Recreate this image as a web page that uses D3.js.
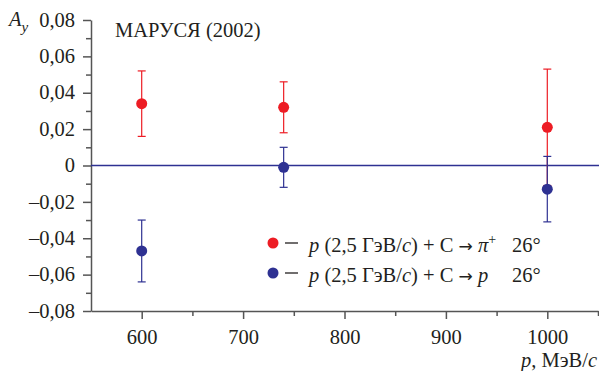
<!DOCTYPE html>
<html>
<head>
<meta charset="utf-8">
<script src="https://cdn.jsdelivr.net/npm/d3@7"></script>
<style>
  body { margin: 0; background: #fff; }
</style>
</head>
<body>
<div id="chart"></div>
<script>
// momentum of the secondary particle, MeV/c
var momenta = [600, 740, 1000];
// p + C -> pi+ 26 deg
var piPlusAy = [0.034, 0.032, 0.021];
var piPlusErr = [0.018, 0.014, 0.032];
// p + C -> p 26 deg
var protonAy = [-0.047, -0.001, -0.013];
var protonErr = [0.017, 0.011, 0.018];

var xTicks = [600, 700, 800, 900, 1000];
var xMinor = [650, 750, 850, 950, 1050];
var yTicks = [-0.08, -0.06, -0.04, -0.02, 0, 0.02, 0.04, 0.06, 0.08];
var yMinor = [-0.07, -0.05, -0.03, -0.01, 0.01, 0.03, 0.05, 0.07];

var red = "#ed1c24", blue = "#2e3192", axisCol = "#555", ink = "#231f20";
var font = "Liberation Serif";
var fs = "20.5px";

var width = 599, height = 371;
var svg = d3.select("#chart").append("svg")
    .attr("width", width)
    .attr("height", height)
    .attr("font-family", font);

var x = d3.scaleLinear().domain([550, 1050]).range([91, 598]);
var y = d3.scaleLinear().domain([-0.08, 0.08]).range([311, 20]);

function fmtY(d){
  if (d === 0) return "0";
  return (d < 0 ? "\u2013" : "") + Math.abs(d).toFixed(2).replace(".", ",");
}

// y axis
var gy = svg.append("g")
    .attr("transform", "translate(" + x(550) + ",0)")
    .call(d3.axisLeft(y).tickValues(yTicks).tickSize(8).tickSizeOuter(0).tickFormat(fmtY));
gy.selectAll("text").attr("x", -16).attr("dy", "0.3em");
svg.append("g")
    .attr("transform", "translate(" + x(550) + ",0)")
    .call(d3.axisLeft(y).tickValues(yMinor).tickSize(5).tickSizeOuter(0).tickFormat(""))
    .select(".domain").remove();

// x axis
var gx = svg.append("g")
    .attr("transform", "translate(0," + y(-0.08) + ")")
    .call(d3.axisBottom(x).tickValues(xTicks).tickSize(8).tickSizeOuter(0).tickFormat(d3.format("d")));
gx.selectAll("text").attr("y", 33).attr("dy", 0);
svg.append("g")
    .attr("transform", "translate(0," + y(-0.08) + ")")
    .call(d3.axisBottom(x).tickValues(xMinor).tickSize(5).tickSizeOuter(0).tickFormat(""))
    .select(".domain").remove();

svg.selectAll("g").attr("font-family", font).attr("font-size", null);
svg.selectAll(".domain, .tick line").attr("stroke", axisCol).attr("stroke-width", 1.5);
svg.selectAll(".tick text").attr("fill", ink).style("font-size", fs);

// zero line
svg.append("line")
    .attr("x1", x(550)).attr("x2", width)
    .attr("y1", y(0)).attr("y2", y(0))
    .attr("stroke", blue).attr("stroke-width", 1.5);

var series = [
  {vals: piPlusAy, errs: piPlusErr, color: red},
  {vals: protonAy, errs: protonErr, color: blue}
];

series.forEach(function(s){
  var pts = momenta.map(function(m, i){ return {m: m, v: s.vals[i], e: s.errs[i]}; });
  var g = svg.append("g");
  var bars = g.selectAll(".err").data(pts).enter().append("g")
      .attr("stroke", s.color).attr("stroke-width", 1.2);
  bars.append("line")
      .attr("x1", function(d){ return x(d.m); }).attr("x2", function(d){ return x(d.m); })
      .attr("y1", function(d){ return y(d.v + d.e); }).attr("y2", function(d){ return y(d.v - d.e); });
  bars.append("line")
      .attr("x1", function(d){ return x(d.m) - 4; }).attr("x2", function(d){ return x(d.m) + 4; })
      .attr("y1", function(d){ return y(d.v + d.e); }).attr("y2", function(d){ return y(d.v + d.e); });
  bars.append("line")
      .attr("x1", function(d){ return x(d.m) - 4; }).attr("x2", function(d){ return x(d.m) + 4; })
      .attr("y1", function(d){ return y(d.v - d.e); }).attr("y2", function(d){ return y(d.v - d.e); });
  g.selectAll("circle").data(pts).enter().append("circle")
      .attr("cx", function(d){ return x(d.m); })
      .attr("cy", function(d){ return y(d.v); })
      .attr("r", 5.5)
      .attr("fill", s.color);
});

// title and axis labels
svg.append("text").attr("x", 115).attr("y", 37).attr("fill", ink).style("font-size", "20.5px").text("МАРУСЯ (2002)");

var ay = svg.append("text").attr("x", 9).attr("y", 26).attr("fill", ink).style("font-size", fs);
ay.append("tspan").style("font-style", "italic").text("A");
ay.append("tspan").style("font-style", "italic").style("font-size", "15px").attr("dy", 6).text("y");

var xl = svg.append("text").attr("x", 597).attr("y", 367).attr("text-anchor", "end").attr("fill", ink).style("font-size", fs);
xl.append("tspan").style("font-style", "italic").text("p");
xl.append("tspan").text(", МэВ/");
xl.append("tspan").style("font-style", "italic").text("c");

// legend
var legendRows = [
  {color: red, product: "π", sup: "+", yy: 243},
  {color: blue, product: "p", sup: "", yy: 273}
];
legendRows.forEach(function(r){
  svg.append("circle").attr("cx", 273).attr("cy", r.yy).attr("r", 5.5).attr("fill", r.color);
  svg.append("line").attr("x1", 285).attr("x2", 298).attr("y1", r.yy).attr("y2", r.yy)
      .attr("stroke", ink).attr("stroke-width", 1.3);
  var t = svg.append("text").attr("x", 309).attr("y", r.yy + 8.5).attr("fill", ink).style("font-size", fs);
  t.append("tspan").style("font-style", "italic").text("p");
  t.append("tspan").text(" (2,5 ГэВ/");
  t.append("tspan").style("font-style", "italic").text("c");
  t.append("tspan").text(") + C ");
  t.append("tspan").style("font-family", "DejaVu Sans").style("font-size", "17px").text("→");
  t.append("tspan").text(" ");
  t.append("tspan").style("font-style", "italic").text(r.product);
  if (r.sup) {
    t.append("tspan").attr("dy", -8).style("font-size", "14px").text(r.sup);
    t.append("tspan").attr("dy", 8).text(" ");
  }
  t.append("tspan").attr("x", 512).text("26°");
});
</script>
</body>
</html>
